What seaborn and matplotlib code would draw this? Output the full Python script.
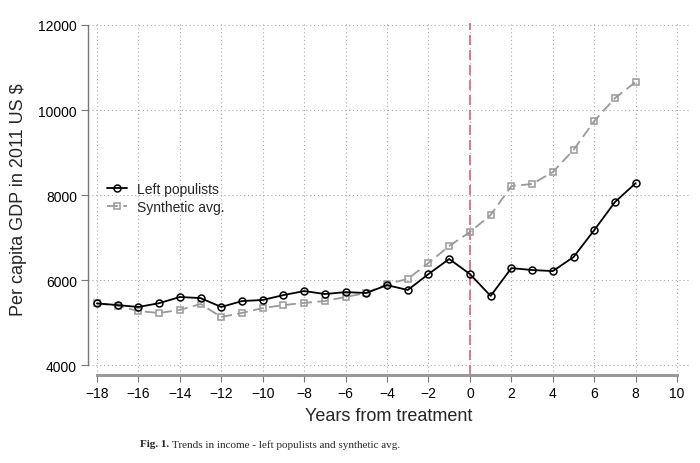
import pandas as pd
import matplotlib
matplotlib.use("Agg")
import matplotlib.pyplot as plt
import seaborn as sns

years = list(range(-18, 9))
left_populists = [5450, 5410, 5365, 5455, 5600, 5575, 5365, 5505, 5530, 5645,
                  5740, 5670, 5715, 5695, 5880, 5765, 6140, 6495, 6140, 5625,
                  6280, 6235, 6210, 6540, 7175, 7835, 8280]
synthetic_avg = [5450, 5390, 5270, 5225, 5295, 5435, 5130, 5225, 5340, 5410,
                 5460, 5505, 5600, 5695, 5905, 6025, 6400, 6800, 7130, 7530,
                 8210, 8260, 8540, 9060, 9740, 10280, 10660]

x_ticks = list(range(-18, 11, 2))
y_ticks = [4000, 6000, 8000, 10000, 12000]

df = pd.DataFrame({"year": years, "left": left_populists, "synth": synthetic_avg})

sns.set_style("white")
plt.rcParams["font.family"] = ["Liberation Sans", "DejaVu Sans"]

fig = plt.figure(figsize=(7, 4.64), dpi=100)
ax = fig.add_axes([88 / 700, 1 - 376 / 464, 602 / 700, 352 / 464])

sns.lineplot(data=df, x="year", y="left", ax=ax, color="black", lw=1.3,
             marker="o", markersize=5, markerfacecolor="none",
             markeredgecolor="black", markeredgewidth=1.1,
             label="Left populists", zorder=4)
sns.lineplot(data=df, x="year", y="synth", ax=ax, color="#999999", lw=1.3,
             marker="s", markersize=5, markerfacecolor="none",
             markeredgecolor="#999999", markeredgewidth=1.1,
             dashes=(6, 3), label="Synthetic avg.", zorder=3)

ax.axvline(0, color="#e0607e", lw=1.2, ls=(0, (6, 3)), zorder=2)

ax.set_xlim(-18.43, 10.62)
ax.set_ylim(3765, 12047)
ax.set_xticks(x_ticks)
ax.set_yticks(y_ticks)
ax.set_xticklabels([str(t).replace("-", "\u2212") for t in x_ticks], fontsize=10)
ax.set_yticklabels([str(t) for t in y_ticks], fontsize=10)

ax.grid(True, ls=(0, (1, 2.5)), color="#aaaaaa", lw=0.8)
for s in ["top", "right"]:
    ax.spines[s].set_visible(False)
ax.spines["left"].set_bounds(4000, 12000)
ax.spines["left"].set_color("#777777")
ax.spines["left"].set_linewidth(1.0)
ax.spines["bottom"].set_bounds(-18, 10)
ax.spines["bottom"].set_color("#999999")
ax.spines["bottom"].set_linewidth(2.2)
ax.tick_params(axis="both", direction="out", length=5, width=0.8,
               color="#777777", labelcolor="black", bottom=True, left=True, pad=3)

ax.set_xlabel("Years from treatment", fontsize=13, labelpad=5)
ax.set_ylabel("Per capita GDP in 2011 US $", fontsize=13, labelpad=8)

leg = ax.legend(loc="upper left", bbox_to_anchor=(0.01, 0.585), frameon=False,
                fontsize=10, handlelength=1.5, handletextpad=0.7, labelspacing=0.3)

fig.text(0.2, 1 - 445 / 464, "Fig. 1.", fontsize=8, fontweight="bold",
         family=["Liberation Serif"], va="center", ha="left")
fig.text(0.2 + 32 / 700, 1 - 445 / 464,
         "Trends in income - left populists and synthetic avg.",
         fontsize=8, family=["Liberation Serif"], va="center", ha="left")

fig.savefig("out.png", dpi=100)
